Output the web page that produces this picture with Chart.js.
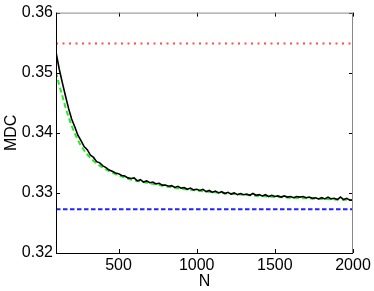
<!DOCTYPE html>
<html>
<head>
<meta charset="utf-8">
<script src="https://cdn.jsdelivr.net/npm/chart.js@4"></script>
<style>
  html, body { margin: 0; padding: 0; background: #fff; }
  #wrap { width: 374px; height: 291px; }
</style>
</head>
<body>
<div id="wrap"><canvas id="mdc-chart" width="374" height="291"></canvas></div>
<script>
// MDC against N: noisy measurement, fitted curve and two reference levels

const nValues = [
    100, 120, 140, 160, 180, 200, 220, 240, 260, 280,
    300, 320, 340, 360, 380, 400, 420, 440, 460, 480,
    500, 520, 540, 560, 580, 600, 620, 640, 660, 680,
    700, 720, 740, 760, 780, 800, 820, 840, 860, 880,
    900, 920, 940, 960, 980, 1000, 1020, 1040, 1060, 1080,
    1100, 1120, 1140, 1160, 1180, 1200, 1220, 1240, 1260, 1280,
    1300, 1320, 1340, 1360, 1380, 1400, 1420, 1440, 1460, 1480,
    1500, 1520, 1540, 1560, 1580, 1600, 1620, 1640, 1660, 1680,
    1700, 1720, 1740, 1760, 1780, 1800, 1820, 1840, 1860, 1880,
    1900, 1920, 1940, 1960, 1980, 2000
];

const measuredMdc = [
    0.3534, 0.3507, 0.3484, 0.3462, 0.3441, 0.3423, 0.3410, 0.3396, 0.3387, 0.3377,
    0.3372, 0.3363, 0.3359, 0.3352, 0.3350, 0.3345, 0.3342, 0.3338, 0.3336, 0.3333,
    0.3332, 0.3329, 0.3328, 0.3325, 0.3324, 0.3325, 0.3320, 0.3322, 0.3318, 0.3320,
    0.3317, 0.3318, 0.3315, 0.3316, 0.3313, 0.3313, 0.3311, 0.3312, 0.3309, 0.3311,
    0.3308, 0.3309, 0.3306, 0.3308, 0.3305, 0.3306, 0.3304, 0.3306, 0.3302, 0.3304,
    0.3301, 0.3303, 0.3300, 0.3302, 0.3299, 0.3301, 0.3298, 0.3300, 0.3297, 0.3299,
    0.3297, 0.3298, 0.3296, 0.3299, 0.3296, 0.3297, 0.3295, 0.3297, 0.3294, 0.3296,
    0.3294, 0.3295, 0.3293, 0.3295, 0.3293, 0.3294, 0.3292, 0.3294, 0.3293, 0.3294,
    0.3292, 0.3293, 0.3291, 0.3292, 0.3290, 0.3292, 0.3290, 0.3293, 0.3290, 0.3291,
    0.3289, 0.3293, 0.3289, 0.3291, 0.3288, 0.3288
];

const nFit = [100, 120, 140, 160, 180, 200, 250, 300, 350, 400, 450, 500,
              600, 700, 800, 900, 1000, 1200, 1400, 1600, 1800, 2000];
const fitMdc = [0.3501, 0.3480, 0.3462, 0.3443, 0.3427, 0.3412, 0.3383, 0.3364, 0.3351, 0.3342, 0.3335, 0.3329,
                0.3321, 0.3316, 0.3311, 0.3307, 0.3304, 0.3299, 0.3295, 0.3292, 0.3290, 0.3288];

const nRange = [100, 2000];
const upperLevel = 0.35487;   // red dotted line
const lowerLevel = 0.32727;   // blue dashed line

const xTicks = [500, 1000, 1500, 2000];
const yTicks = [0.32, 0.33, 0.34, 0.35, 0.36];

function toPoints(xs, ys) {
    return xs.map((x, i) => ({x: x, y: ys[i]}));
}

// inward tick marks and the box, matlab style
const boxTicks = {
    id: 'boxTicks',
    afterDraw(chart) {
        const {ctx, chartArea: a, scales} = chart;
        const len = 4;
        ctx.save();
        ctx.lineWidth = 1;
        ctx.strokeStyle = '#000';
        xTicks.forEach(v => {
            const px = Math.round(scales.x.getPixelForValue(v)) + 0.5;
            ctx.beginPath();
            ctx.moveTo(px, a.bottom); ctx.lineTo(px, a.bottom - len);
            ctx.moveTo(px, a.top); ctx.lineTo(px, a.top + len);
            ctx.stroke();
        });
        yTicks.forEach(v => {
            const py = Math.round(scales.y.getPixelForValue(v)) + 0.5;
            ctx.beginPath();
            ctx.moveTo(a.left, py); ctx.lineTo(a.left + len, py);
            ctx.moveTo(a.right, py); ctx.lineTo(a.right - len, py);
            ctx.stroke();
        });
        ctx.strokeStyle = '#888';
        ctx.beginPath();
        ctx.moveTo(a.left, a.top + 0.5); ctx.lineTo(a.right, a.top + 0.5);
        ctx.moveTo(a.right - 0.5, a.top); ctx.lineTo(a.right - 0.5, a.bottom);
        ctx.stroke();
        ctx.strokeStyle = '#000';
        ctx.beginPath();
        ctx.moveTo(a.left + 0.5, a.top); ctx.lineTo(a.left + 0.5, a.bottom);
        ctx.moveTo(a.left, a.bottom + 0.5); ctx.lineTo(a.right, a.bottom + 0.5);
        ctx.stroke();
        ctx.restore();
    }
};

const font = {family: '"Liberation Sans", Arial, sans-serif', size: 16};

new Chart(document.getElementById('mdc-chart'), {
    type: 'line',
    data: {
        datasets: [
            {
                label: 'measured',
                data: toPoints(nValues, measuredMdc),
                borderColor: '#000',
                borderWidth: 1.6,
                order: 0
            },
            {
                label: 'fit',
                data: toPoints(nFit, fitMdc),
                borderColor: '#22ee22',
                borderWidth: 2,
                borderDash: [5, 3],
                cubicInterpolationMode: 'monotone',
                order: 1
            },
            {
                label: 'upper',
                data: toPoints(nRange, [upperLevel, upperLevel]),
                borderColor: '#ff4a4a',
                borderWidth: 2,
                borderDash: [2, 4.5],
                order: 2
            },
            {
                label: 'lower',
                data: toPoints(nRange, [lowerLevel, lowerLevel]),
                borderColor: '#2222ff',
                borderWidth: 2,
                borderDash: [4.5, 2.5],
                order: 3
            }
        ]
    },
    options: {
        responsive: false,
        animation: false,
        elements: {point: {radius: 0}, line: {tension: 0}},
        layout: {padding: {top: 12, right: 21, left: 2, bottom: 0}},
        plugins: {legend: {display: false}, tooltip: {enabled: false}},
        scales: {
            x: {
                type: 'linear',
                min: 100,
                max: 2000,
                afterFit: s => { s.height = 38; },
                afterBuildTicks: s => { s.ticks = xTicks.map(v => ({value: v})); },
                grid: {display: false, drawTicks: false},
                border: {display: false},
                ticks: {color: '#000', font: font, padding: 3, maxRotation: 0, callback: v => String(v)},
                title: {display: true, text: 'N', color: '#000', font: font, padding: {top: 0, bottom: 0}}
            },
            y: {
                min: 0.32,
                max: 0.36,
                afterFit: s => { s.width = 54; },
                afterBuildTicks: s => { s.ticks = yTicks.map(v => ({value: v})); },
                grid: {display: false, drawTicks: false},
                border: {display: false},
                ticks: {color: '#000', font: font, padding: 3, callback: v => v.toFixed(2)},
                title: {display: true, text: 'MDC', color: '#000', font: font, padding: {top: 0, bottom: 0}}
            }
        }
    },
    plugins: [boxTicks]
});
</script>
</body>
</html>
